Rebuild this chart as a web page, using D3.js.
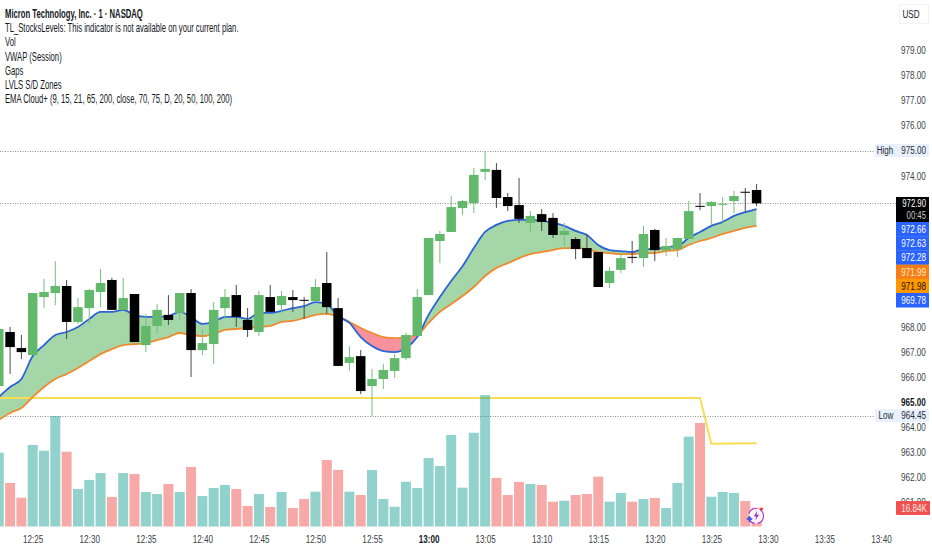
<!DOCTYPE html>
<html>
<head>
<meta charset="utf-8">
<script src="https://cdn.jsdelivr.net/npm/d3@7"></script>
<style>
  html, body { margin: 0; padding: 0; background: #fff; }
  svg { display: block; }
  text { font-family: "Liberation Sans", sans-serif; }
</style>
</head>
<body>
<svg id="chart" width="932" height="550"></svg>
<script>
// Micron 1 minute chart, first candle is 12:22
const firstMinute = 742;

const opens = [965.63,967.78,967.14,966.86,969.17,969.33,969.61,968.18,968.73,969.37,969.85,968.66,969.29,967.26,968.02,968.46,968.54,969.33,967.06,967.30,968.73,969.25,
  968.26,967.78,969.17,968.85,969.17,969.06,969.01,969.73,968.73,966.55,966.82,965.63,965.91,966.23,966.74,967.62,969.25,971.40,971.76,972.71,972.91,974.15,
  974.23,973.15,972.83,972.12,972.47,972.32,971.64,971.48,971.12,970.96,969.73,970.25,970.77,970.72,971.84,971.04,971.08,971.48,972.80,972.79,972.86,972.99,973.36,973.43];
const highs = [967.90,967.98,967.66,969.33,969.89,970.60,969.85,969.13,969.49,970.29,969.93,969.93,969.29,968.50,968.89,969.25,969.33,969.49,967.90,968.97,969.49,969.65,
  968.73,969.41,969.65,969.41,969.45,969.17,969.89,970.96,969.13,967.22,967.06,966.31,966.51,966.90,967.74,969.49,971.52,971.80,973.19,973.03,974.30,974.98,
  974.50,973.31,973.91,972.59,972.67,972.51,972.12,971.56,971.68,970.96,970.37,970.96,971.40,972.00,971.88,971.52,971.52,972.99,973.31,972.99,973.15,973.39,973.51,973.67];
const lows = [965.63,966.11,966.70,966.86,968.73,968.85,967.50,968.10,968.14,968.77,968.66,968.66,967.38,966.98,967.70,968.06,968.26,965.99,966.86,966.51,968.30,967.98,
  967.58,967.62,968.58,968.54,968.58,968.30,969.01,968.50,966.43,966.23,965.31,964.44,965.51,965.95,966.66,967.62,969.25,970.52,971.76,972.44,972.51,973.83,
  972.71,972.59,972.12,971.76,971.80,971.52,971.20,970.68,970.72,969.57,969.53,970.13,970.52,970.37,970.60,970.80,970.76,971.48,972.63,972.04,972.08,972.51,972.55,972.79];
const closes = [967.90,967.18,966.98,969.33,969.37,969.61,968.18,968.77,969.45,969.73,968.66,969.13,967.38,968.02,968.66,968.26,969.33,967.06,967.34,968.66,969.17,968.38,
  967.86,969.25,968.58,969.21,969.05,969.04,969.57,968.77,966.43,966.78,965.43,965.91,966.27,966.74,967.66,969.17,971.52,971.68,972.75,972.99,974.03,974.27,
  973.11,972.79,972.28,972.40,972.16,971.64,971.80,971.08,970.72,969.57,970.21,970.72,970.75,971.68,971.04,971.20,971.52,972.59,972.78,972.95,972.88,973.19,973.34,972.90];

const volumes = [66.1,39.0,25.8,73.0,67.9,99.0,67.0,33.6,41.7,47.9,26.4,47.9,47.0,30.9,29.1,38.1,30.9,53.3,27.3,34.5,37.2,33.6,
  18.4,29.1,17.5,30.9,16.6,24.6,31.2,59.6,50.6,31.2,28.2,50.6,24.6,17.7,40.1,34.5,61.4,54.2,82.0,34.8,84.0,117.8,
  43.5,28.2,39.9,38.1,37.2,22.2,23.1,28.2,29.1,44.6,22.2,30.0,22.2,24.6,25.5,16.6,39.0,80.5,92.7,26.7,30.9,30.0,22.8,16.84];

const emaFast = [965.19,965.59,965.91,966.82,967.26,967.66,967.78,967.98,968.30,968.58,968.58,968.66,968.46,968.38,968.38,968.42,968.58,968.38,968.10,968.18,968.38,968.38,
  968.30,968.54,968.54,968.62,968.73,968.81,968.97,968.89,968.42,968.14,967.58,967.22,967.02,966.98,967.14,967.58,968.46,969.17,969.81,970.40,971.12,971.76,
  972.04,972.20,972.24,972.24,972.20,972.12,972.00,971.80,971.64,971.24,971.04,971.00,970.96,971.08,971.08,971.16,971.20,971.52,971.76,972.00,972.16,972.40,972.55,972.67];
const emaSlow = [964.28,964.56,964.76,965.19,965.59,965.91,966.11,966.35,966.63,966.90,967.10,967.26,967.30,967.34,967.46,967.58,967.74,967.66,967.62,967.70,967.86,967.90,
  967.94,967.98,968.02,968.18,968.22,968.34,968.46,968.50,968.38,968.18,967.94,967.74,967.58,967.54,967.58,967.66,968.14,968.58,968.89,969.21,969.57,970.01,
  970.33,970.52,970.72,970.88,970.96,971.04,971.12,971.12,971.08,970.96,970.92,970.88,970.88,970.92,970.92,971.00,971.04,971.24,971.40,971.52,971.68,971.80,971.92,972.00];

// yellow level, only changes at the end
const levelMinutes = [741, 804, 805, 809];
const levelPrices = [965.15, 965.15, 963.33, 963.35];

// 969-973 and 975 sit behind the value boxes in the original
const priceTicks = [979,978,977,976,974,968,967,966,965,964,963,962,961];
const timeTicks = [745,750,755,760,765,770,775,780,785,790,795,800,805,810,815,820];

const highPrice = 975.00, lowPrice = 964.45, lastPrice = 972.90;

const legendLines = [
  'Micron Technology, Inc. · 1 · NASDAQ',
  'TL_StocksLevels: This indicator is not available on your current plan.',
  'Vol',
  'VWAP (Session)',
  'Gaps',
  'LVLS S/D Zones',
  'EMA Cloud+ (9, 15, 21, 65, 200, close, 70, 75, D, 20, 50, 100, 200)'
];
const priceBoxes = [
  { label: '972.66', bg: '#2962ff', fg: '#fff' },
  { label: '972.63', bg: '#2962ff', fg: '#fff' },
  { label: '972.28', bg: '#2962ff', fg: '#fff' },
  { label: '971.99', bg: '#f57f17', fg: '#ffe6c4' },
  { label: '971.98', bg: '#ff9800', fg: '#1a1100' },
  { label: '969.78', bg: '#2962ff', fg: '#fff' }
];

const svg = d3.select('#chart');

const x = d3.scaleLinear().domain([745, 820]).range([32.7, 881]);
const y = d3.scaleLinear().domain([979, 964]).range([50, 427]);
const yVol = d3.scaleLinear().domain([0, 117.8]).range([526.5, 395]);

const candles = opens.map((o, i) => ({
  minute: firstMinute + i, open: o, high: highs[i], low: lows[i], close: closes[i],
  volume: volumes[i], fast: emaFast[i], slow: emaSlow[i], up: closes[i] >= o
}));

function fmtTime(m) {
  return Math.floor(m / 60) + ':' + String(m % 60).padStart(2, '0');
}

// dotted price lines
[[highPrice, 875], [lastPrice, 896], [lowPrice, 878]].forEach(([p, end]) => {
  svg.append('line')
    .attr('x1', 0).attr('x2', end)
    .attr('y1', Math.round(y(p)) + 0.5).attr('y2', Math.round(y(p)) + 0.5)
    .attr('stroke', '#8f8f8f').attr('stroke-width', 1).attr('stroke-dasharray', '1 1.5');
});

// EMA cloud, two clipped areas so the colour flips where the lines cross
const defs = svg.append('defs');
const curve = d3.curveMonotoneX;
const areaBelowFast = d3.area().curve(curve).x(d => x(d.minute)).y0(550).y1(d => y(d.fast));
const areaAboveFast = d3.area().curve(curve).x(d => x(d.minute)).y0(0).y1(d => y(d.fast));
const areaAboveSlow = d3.area().curve(curve).x(d => x(d.minute)).y0(0).y1(d => y(d.slow));
const areaBelowSlow = d3.area().curve(curve).x(d => x(d.minute)).y0(550).y1(d => y(d.slow));

defs.append('clipPath').attr('id', 'clipBelowFast').append('path').attr('d', areaBelowFast(candles));
defs.append('clipPath').attr('id', 'clipAboveFast').append('path').attr('d', areaAboveFast(candles));

svg.append('path').attr('d', areaAboveSlow(candles))
  .attr('clip-path', 'url(#clipBelowFast)').attr('fill', '#a5d6a7');
svg.append('path').attr('d', areaBelowSlow(candles))
  .attr('clip-path', 'url(#clipAboveFast)').attr('fill', '#f7929c');

// yellow level goes over the cloud but under the volume bars
svg.append('path')
  .attr('d', d3.line().x((d, i) => x(levelMinutes[i])).y(d => y(d))(levelPrices))
  .attr('fill', 'none').attr('stroke', '#f7dc55').attr('stroke-width', 2);

// volume
const barW = 10;
svg.append('g').selectAll('rect').data(candles).join('rect')
  .attr('x', d => x(d.minute) - barW / 2)
  .attr('width', barW)
  .attr('y', d => yVol(d.volume))
  .attr('height', d => yVol(0) - yVol(d.volume))
  .attr('fill', d => d.up ? '#26a69a' : '#ef5350')
  .attr('fill-opacity', 0.5);

svg.append('path')
  .attr('d', d3.line().curve(curve).x(d => x(d.minute)).y(d => y(d.slow))(candles))
  .attr('fill', 'none').attr('stroke', '#ef8a2e').attr('stroke-width', 1.8);
svg.append('path')
  .attr('d', d3.line().curve(curve).x(d => x(d.minute)).y(d => y(d.fast))(candles))
  .attr('fill', 'none').attr('stroke', '#2c63d8').attr('stroke-width', 1.8);

// candles
const bodyW = 9.5;
const candle = svg.append('g').selectAll('g').data(candles).join('g');
candle.append('line')
  .attr('x1', d => x(d.minute)).attr('x2', d => x(d.minute))
  .attr('y1', d => y(d.high)).attr('y2', d => y(d.low))
  .attr('stroke', d => d.up ? '#74bf7a' : '#4a4a4a').attr('stroke-width', 1);
candle.append('rect')
  .attr('x', d => x(d.minute) - bodyW / 2)
  .attr('width', bodyW)
  .attr('y', d => y(Math.max(d.open, d.close)))
  .attr('height', d => Math.max(1, Math.abs(y(d.open) - y(d.close))))
  .attr('fill', d => d.up ? '#63b96b' : '#000');

// legend
svg.append('g').attr('class', 'legend').selectAll('text').data(legendLines).join('text')
  .attr('x', 5)
  .attr('y', (d, i) => 18 + i * 14.2)
  .attr('font-size', 12)
  .attr('font-weight', (d, i) => i === 0 ? 700 : 400)
  .attr('fill', '#131722')
  .text(d => d);

// time axis
const timeAxis = svg.append('g')
  .attr('transform', 'translate(0,530)')
  .call(d3.axisBottom(x).tickValues(timeTicks).tickFormat(fmtTime).tickSize(0).tickPadding(5));
timeAxis.select('.domain').remove();
timeAxis.selectAll('text')
  .attr('font-size', 11)
  .style('font-family', '"Liberation Sans", sans-serif')
  .attr('font-weight', d => d === 780 ? 700 : 400)
  .attr('fill', d => d === 780 ? '#131722' : '#3b3f48');

// price axis
const priceAxis = svg.append('g')
  .attr('transform', 'translate(901,0)')
  .call(d3.axisRight(y).tickValues(priceTicks).tickFormat(d3.format('.2f')).tickSize(0).tickPadding(0));
priceAxis.select('.domain').remove();
priceAxis.selectAll('text')
  .attr('font-size', 11)
  .style('font-family', '"Liberation Sans", sans-serif')
  .attr('font-weight', d => d === 965 ? 700 : 400)
  .attr('fill', d => d === 965 ? '#131722' : '#3b3f48');

// USD button
svg.append('rect').attr('x', 899.5).attr('y', 4.5).attr('width', 29).attr('height', 19)
  .attr('fill', '#fff').attr('stroke', '#f2f2f2');
svg.append('text').attr('x', 911).attr('y', 18).attr('text-anchor', 'middle')
  .attr('font-size', 11).attr('fill', '#131722').text('USD');

// High / Low pills
[['High', highPrice, 885], ['Low', lowPrice, 886]].forEach(([name, p, cx]) => {
  const py = y(p);
  svg.append('rect').attr('x', 875).attr('y', py - 6.5).attr('width', 54).attr('height', 13)
    .attr('rx', 2).attr('fill', '#e8f0fb');
  svg.append('text').attr('x', cx).attr('y', py + 3.8).attr('text-anchor', 'middle')
    .attr('font-size', 11).attr('fill', '#2a2e39').text(name);
  svg.append('text').attr('x', 926).attr('y', py + 3.8).attr('text-anchor', 'end')
    .attr('font-size', 11).attr('fill', '#2a2e39').text(p.toFixed(2));
});

// stacked last value boxes
svg.append('rect').attr('x', 896).attr('y', 197).attr('width', 33).attr('height', 25).attr('fill', '#000');
svg.append('text').attr('x', 926).attr('y', 207).attr('text-anchor', 'end')
  .attr('font-size', 10.5).attr('fill', '#fff').text(lastPrice.toFixed(2));
svg.append('text').attr('x', 926).attr('y', 219).attr('text-anchor', 'end')
  .attr('font-size', 10.5).attr('fill', '#c9c9c9').text('00:45');
const boxH = 14.2;
priceBoxes.forEach((b, i) => {
  const top = 222 + i * boxH;
  svg.append('rect').attr('x', 896).attr('y', top).attr('width', 33).attr('height', boxH + 0.3).attr('fill', b.bg);
  svg.append('text').attr('x', 926).attr('y', top + 11).attr('text-anchor', 'end')
    .attr('font-size', 11).attr('fill', b.fg).text(b.label);
});

// current volume tag
svg.append('rect').attr('x', 896).attr('y', 501).attr('width', 34).attr('height', 14).attr('rx', 1).attr('fill', '#ef5350');
svg.append('text').attr('x', 927).attr('y', 511.7).attr('text-anchor', 'end')
  .attr('font-size', 11).attr('fill', '#ffe3e1').text(volumes[volumes.length - 1].toFixed(2) + 'K');

// little spark badge over the last bar
const badge = svg.append('g').attr('transform', 'translate(756,516)');
badge.append('circle').attr('r', 7.5).attr('fill', '#fff').attr('fill-opacity', 0.85)
  .attr('stroke', '#a33bd6').attr('stroke-width', 1.2).attr('stroke-dasharray', '10 3');
badge.append('path').attr('d', 'M1,-5 L-2,0.5 L0.5,0.5 L-1,5 L3,-1.2 L0.6,-1.2 Z').attr('fill', '#8e2fc9');
badge.append('path').attr('d', 'M-6.5,-0.5 L-5.2,1.6 L-3,3 L-5.2,4.2 L-6.5,6.5 L-7.8,4.2 L-10,3 L-7.8,1.6 Z')
  .attr('fill', '#4a55e8');
badge.append('circle').attr('cx', 5.5).attr('cy', -7).attr('r', 1.6).attr('fill', '#ef3b3b');

// the reference type is condensed and no narrow face is installed, squeeze it around its anchor
svg.selectAll('text').each(function() {
  const factor = this.parentNode.getAttribute('class') === 'legend' ? 0.64 : 0.74;
  const ax = +this.getAttribute('x') || 0;
  d3.select(this).attr('transform', `translate(${ax},0) scale(${factor},1) translate(${-ax},0)`);
});
</script>
</body>
</html>
